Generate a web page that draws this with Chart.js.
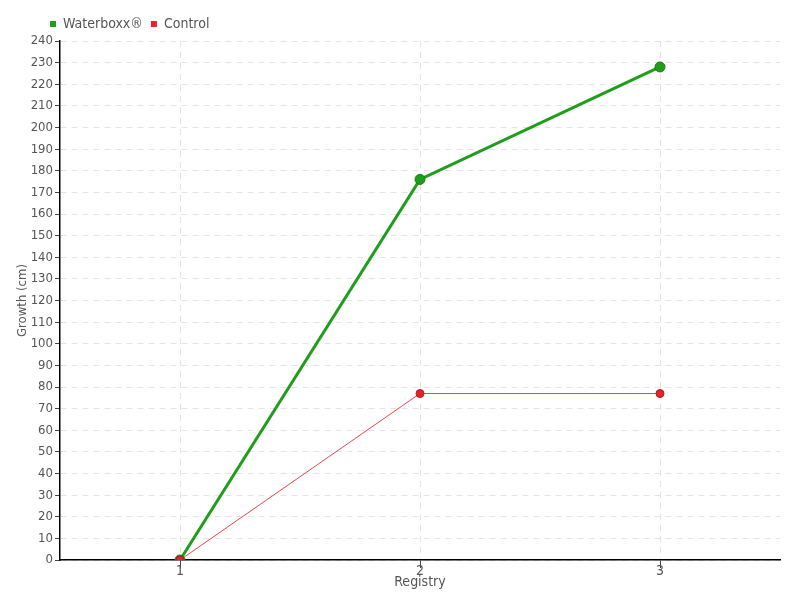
<!DOCTYPE html>
<html>
<head>
<meta charset="utf-8">
<script src="https://cdn.jsdelivr.net/npm/chart.js@4"></script>
<style>
  html, body { margin:0; padding:0; background:#fff; }
  #wrap { width:800px; height:600px; }
</style>
</head>
<body>
<div id="wrap"><canvas id="chart" width="800" height="600"></canvas></div>
<script>
// données
const registries = ["1", "2", "3"];
const waterboxx = [0, 176, 228];
const control = [0, 77, 77];

const FONT = "'DejaVu Sans Condensed', 'Liberation Sans Narrow', 'Noto Sans', sans-serif";
const TXT = '#555';
const GREEN = '#1f9e1b';
const RED = '#e8212c';

Chart.defaults.font.family = FONT;
Chart.defaults.font.size = 14;
Chart.defaults.color = TXT;

// décale la légende vers la droite, comme sur l'original
const legendShift = {
  id: 'legendShift',
  afterLayout(chart) { if (chart.legend) chart.legend.left += 42; }
};

new Chart(document.getElementById('chart'), {
  type: 'line',
  data: {
    labels: registries,
    datasets: [
      { label: 'Waterboxx®', data: waterboxx, borderColor: GREEN, backgroundColor: GREEN,
        borderWidth: 3, pointRadius: 5, pointBorderColor: '#17800f', pointBorderWidth: 1,
        tension: 0, order: 1 },
      { label: 'Control', data: control, borderColor: '#f0444c', backgroundColor: RED,
        borderWidth: 1, pointRadius: 4, pointBorderColor: '#b01a20', pointBorderWidth: 1,
        tension: 0, order: 0 }
    ]
  },
  plugins: [legendShift],
  options: {
    responsive: false,
    animation: false,
    layout: { padding: { left: 0, right: 20, top: 9, bottom: 0 } },
    plugins: {
      legend: {
        align: 'start',
        labels: {
          boxWidth: 6, boxHeight: 6, padding: 8,
          sort: (a, b) => a.datasetIndex - b.datasetIndex,
          generateLabels: chart => Chart.defaults.plugins.legend.labels.generateLabels(chart)
            .map(l => ({ ...l, fillStyle: chart.data.datasets[l.datasetIndex].backgroundColor, strokeStyle: 'transparent', lineWidth: 0 }))
        }
      },
      tooltip: { enabled: false }
    },
    scales: {
      x: {
        offset: true,
        grid: { offset: false, color: '#e4e4e4', tickColor: '#444', tickLength: 8, drawTicks: true },
        border: { color: '#000', width: 1.5, dash: [6, 5] },
        ticks: { padding: -5 },
        title: { display: true, text: 'Registry', padding: { top: 0, bottom: 9 } },
        afterFit: s => { s.height = 40; }
      },
      y: {
        min: 0, max: 240,
        grid: { color: '#e4e4e4', tickColor: '#444', tickLength: 5 },
        border: { color: '#000', width: 1.5, dash: [6, 5] },
        ticks: { stepSize: 10, padding: 2, font: { size: 13 } },
        title: { display: true, text: 'Growth (cm)', font: { size: 13 }, padding: { top: 15, bottom: 0 } },
        afterFit: s => { s.width = 60; }
      }
    }
  }
});
</script>
</body>
</html>
